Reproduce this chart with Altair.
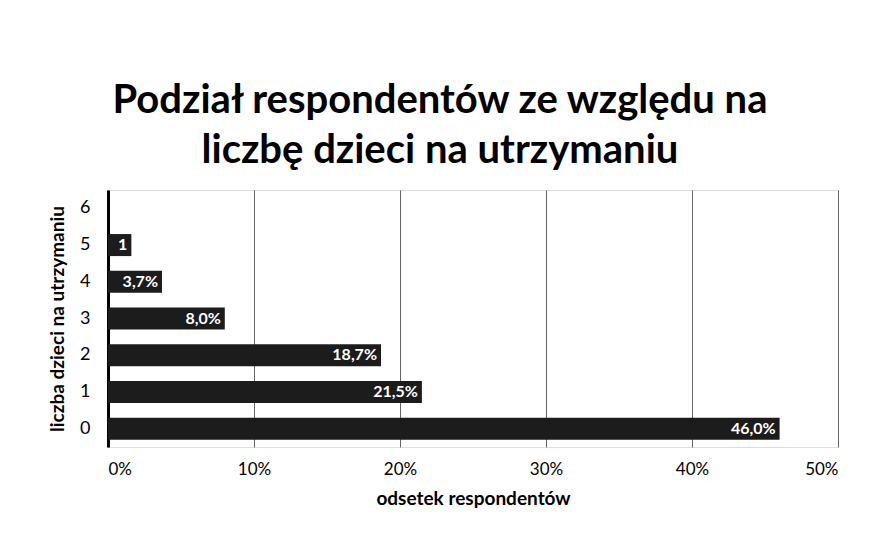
import altair as alt
import pandas as pd

children = ["0", "1", "2", "3", "4", "5", "6"]
shares = [0.460, 0.215, 0.187, 0.080, 0.037, 0.016, 0.0]
labels = ["46,0%", "21,5%", "18,7%", "8,0%", "3,7%", "1", ""]
x_ticks = [0, 0.1, 0.2, 0.3, 0.4, 0.5]

df = pd.DataFrame({"dzieci": children, "odsetek": shares, "etykieta": labels})

FONT = "Lato"

base = alt.Chart(df).encode(
    y=alt.Y(
        "dzieci:N",
        sort="descending",
        title="liczba dzieci na utrzymaniu",
        scale=alt.Scale(paddingInner=0.4, paddingOuter=0.2),
        axis=alt.Axis(
            domainColor="#000", domainWidth=3, ticks=False,
            labelFont=FONT, labelFontSize=18, labelColor="#000", labelPadding=18,
            titleFont=FONT, titleFontSize=19, titleFontWeight="bold", titleColor="#000",
            titlePadding=12,
        ),
    ),
)

bars = base.mark_bar(color="#1c1c1c").encode(
    x=alt.X(
        "odsetek:Q",
        scale=alt.Scale(domain=[0, 0.5]),
        title="odsetek respondentów",
        axis=alt.Axis(
            values=x_ticks, format=".0%", domain=False, ticks=False,
            grid=True, gridColor="#666", gridWidth=1,
            labelFont=FONT, labelFontSize=17, labelColor="#000", labelPadding=14,
            titleFont=FONT, titleFontSize=19, titleFontWeight="bold", titleColor="#000",
            titlePadding=12,
        ),
    ),
)

text = base.mark_text(
    align="right", baseline="middle", dx=-4, color="white",
    font=FONT, fontSize=16, fontWeight="bold",
).encode(x="odsetek:Q", text="etykieta:N")

chart = (
    (bars + text)
    .properties(
        width=730,
        height=257,
        autosize=alt.AutoSizeParams(type="none"),
        padding={"left": 100, "top": 182, "right": 29, "bottom": 92},
        title=alt.TitleParams(
            ["Podział respondentów ze względu na", "liczbę dzieci na utrzymaniu"],
            font=FONT, fontSize=40, fontWeight="bold", color="#000",
            anchor="middle", dx=-33, offset=19, lineHeight=50,
        ),
    )
    .configure_view(stroke=None)
    .configure(background="white")
)

chart.save("out.html", embed_options={"renderer": "svg", "actions": False})
